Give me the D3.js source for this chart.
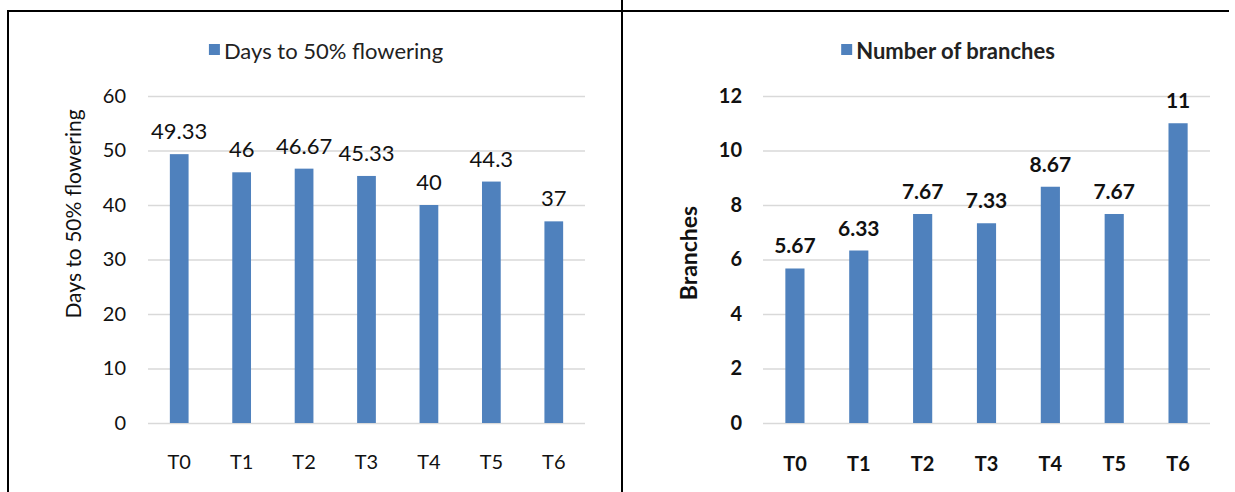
<!DOCTYPE html>
<html><head><meta charset="utf-8">
<script src="https://cdn.jsdelivr.net/npm/d3@7"></script>
<style>
html,body{margin:0;padding:0;background:#fff;}
svg{display:block;font-family:Lato,"Open Sans",sans-serif;}
</style></head>
<body>
<svg id="c" width="1235" height="492"></svg>
<script>
const categories = ["T0","T1","T2","T3","T4","T5","T6"];
const floweringValues = [49.33,46,46.67,45.33,40,44.3,37];
const floweringLabels = ["49.33","46","46.67","45.33","40","44.3","37"];
const branchValues = [5.67,6.33,7.67,7.33,8.67,7.67,11];
const branchLabels = ["5.67","6.33","7.67","7.33","8.67","7.67","11"];
const floweringTicks = [0,10,20,30,40,50,60];
const branchTicks = [0,2,4,6,8,10,12];

const svg = d3.select("#c");
const BAR = "#4f81bd", GRID = "#d9d9d9";

// frame lines
const frame = svg.append("g").attr("stroke","#000").attr("stroke-width",2);
frame.append("line").attr("x1",7).attr("x2",1229).attr("y1",11).attr("y2",11);
frame.append("line").attr("x1",8).attr("x2",8).attr("y1",10).attr("y2",492);
frame.append("line").attr("x1",622).attr("x2",622).attr("y1",0).attr("y2",492);

function chart(cfg){
  const g = svg.append("g");
  const x = d3.scaleBand().domain(categories).range([cfg.x0,cfg.x1]).paddingInner(0.7).paddingOuter(0.35);
  const y = d3.scaleLinear().domain([0,cfg.max]).range([423,96]);
  const w = cfg.weight;
  // gridlines
  const grid = g.append("g").attr("transform",`translate(${cfg.x0},0)`)
    .call(d3.axisLeft(y).tickValues(cfg.ticks).tickSize(-(cfg.x1-cfg.x0)).tickFormat(""));
  grid.select(".domain").remove();
  grid.selectAll(".tick line").attr("stroke",GRID).attr("stroke-width",1.3);
  // y tick labels
  const ya = g.append("g").attr("transform",`translate(${cfg.labelX},0)`)
    .call(d3.axisLeft(y).tickValues(cfg.ticks).tickSize(0).tickPadding(0));
  ya.select(".domain").remove();
  ya.selectAll("text").attr("font-size",20).attr("font-family","Lato").attr("font-weight",w).attr("fill","#111");
  // bars
  g.selectAll("rect.bar").data(cfg.values).join("rect").attr("class","bar")
    .attr("x",(d,i)=>x(categories[i])).attr("width",x.bandwidth())
    .attr("y",d=>y(d)).attr("height",d=>y(0)-y(d)).attr("fill",BAR);
  // value labels
  g.selectAll("text.val").data(cfg.values).join("text").attr("class","val")
    .attr("x",(d,i)=>x(categories[i])+x.bandwidth()/2).attr("y",d=>y(d)-15)
    .attr("text-anchor","middle").attr("font-size",cfg.valSize).attr("font-weight",w).attr("fill","#111")
    .text((d,i)=>cfg.labels[i]);
  // x axis labels
  const xa = g.append("g").attr("transform",`translate(0,${cfg.xLabelY})`)
    .call(d3.axisBottom(x).tickSize(0).tickPadding(0));
  xa.select(".domain").remove();
  xa.selectAll("text").attr("font-size",20).attr("font-family","Lato").attr("font-weight",w).attr("fill","#111").attr("dy","0.71em");
  // y title
  g.append("text").attr("transform",`translate(${cfg.titleX},${cfg.titleY}) rotate(-90)`)
    .attr("text-anchor","middle").attr("dominant-baseline","central")
    .attr("font-size",cfg.titleSize).attr("font-weight",w).attr("fill","#111").text(cfg.title);
  // legend
  const lg = g.append("g");
  const lt = lg.append("text").attr("x",15).attr("y",0).attr("dominant-baseline","central")
    .attr("font-size",cfg.legendSize).attr("font-weight",w).attr("fill","#222").text(cfg.legend);
  lg.append("rect").attr("x",0).attr("y",-6).attr("width",11).attr("height",11).attr("fill",BAR);
  const tw = 15 + lt.node().getComputedTextLength();
  lg.attr("transform",`translate(${cfg.legendCx - tw/2},50)`);
}

chart({x0:148,x1:585,max:60,ticks:floweringTicks,values:floweringValues,labels:floweringLabels,
  labelX:126,weight:"normal",title:"Days to 50% flowering",titleX:72,titleY:214,titleSize:21,
  legend:"Days to 50% flowering",legendCx:326,legendSize:22,valSize:22,xLabelY:455});
chart({x0:763,x1:1210,max:12,ticks:branchTicks,values:branchValues,labels:branchLabels,
  labelX:742,weight:"bold",title:"Branches",titleX:688,titleY:253,titleSize:23,
  legend:"Number of branches",legendCx:948,legendSize:22,valSize:21,xLabelY:457});
</script>
</body></html>
